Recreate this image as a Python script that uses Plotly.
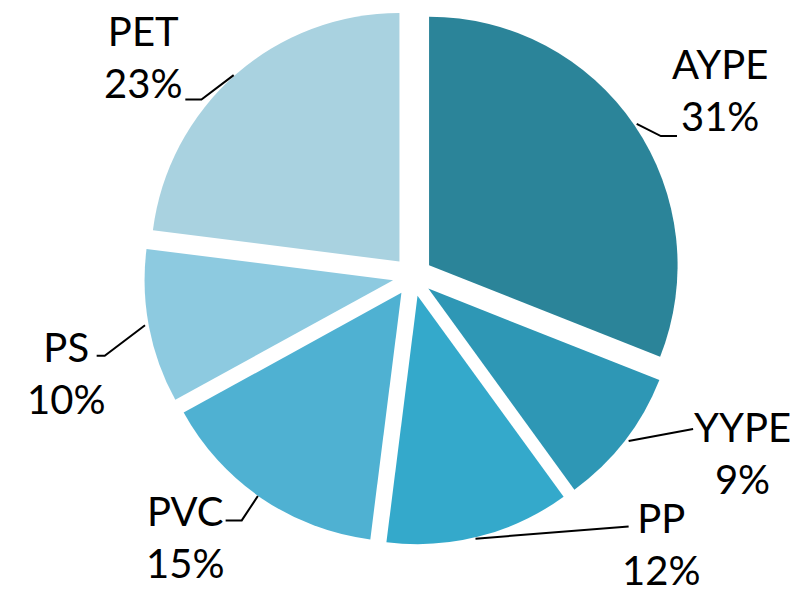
import math
import plotly.graph_objects as go

labels = ["AYPE", "YYPE", "PP", "PVC", "PS", "PET"]
values = [31, 9, 12, 15, 10, 23]
colors = ["#2B8499", "#2E97B5", "#34A9CB", "#4FB1D2", "#8DCAE0", "#A9D2E0"]

# layout / styling (pixels)
W, H = 806, 610
PULL = 0.08
DOM_X = [0.167, 0.837]
DOM_Y = [0.12, 1.0]
# label block centre offsets from the slice's outer mid-point
label_off = [(85, -36), (118, 12), (182, 8), (-77, 39), (-83, 46), (-92, -18)]
# leader end offsets from slice's outer mid-point, and horizontal tail length
leader_end = [(39, 8), (66, -14), (152, -7), (-34, 20), (-55, 26), (-47, 23)]
leader_tail = [13, 0, 0, 12, 12, 12]

fig = go.Figure(go.Pie(
    labels=labels,
    values=values,
    sort=False,
    direction="clockwise",
    rotation=0,
    pull=[PULL] * len(values),
    marker=dict(colors=colors, line=dict(width=0)),
    textinfo="none",
    textposition="none",
    hoverinfo="label+percent",
    showlegend=False,
    domain=dict(x=DOM_X, y=DOM_Y),
))

# pie geometry in pixels (same rule plotly uses)
rx = W * (DOM_X[1] - DOM_X[0]) / 2
ry = H * (DOM_Y[1] - DOM_Y[0]) / 2
r = min(rx, ry) / (1 + PULL)
cx = W * (DOM_X[0] + DOM_X[1]) / 2
cy = H * (1 - (DOM_Y[0] + DOM_Y[1]) / 2)

total = sum(values)
cum = 0
shapes = []
annotations = []
for i, (lab, v) in enumerate(zip(labels, values)):
    mid = (cum + v / 2) / total * 2 * math.pi
    cum += v
    dx, dy = math.sin(mid), -math.cos(mid)
    ex = cx + r * (1 + PULL) * dx
    ey = cy + r * (1 + PULL) * dy
    lx, ly = ex + label_off[i][0], ey + label_off[i][1]
    qx, qy = ex + leader_end[i][0], ey + leader_end[i][1]
    sgn = 1 if leader_end[i][0] > 0 else -1
    kx = qx - sgn * leader_tail[i]
    path = "M {:.2f},{:.2f} L {:.2f},{:.2f} L {:.2f},{:.2f}".format(
        ex / W, 1 - ey / H, kx / W, 1 - qy / H, qx / W, 1 - qy / H)
    shapes.append(dict(type="path", xref="paper", yref="paper", path=path,
                       line=dict(color="black", width=2)))
    pct = "{:.0f}%".format(v / total * 100)
    annotations.append(dict(
        x=lx / W, y=1 - ly / H, xref="paper", yref="paper",
        text=f"{lab}<br>{pct}", showarrow=False,
        xanchor="center", yanchor="middle", borderpad=0,
        font=dict(family="Lato", size=40, color="black"),
    ))

fig.update_layout(
    width=W, height=H,
    margin=dict(l=0, r=0, t=0, b=0),
    paper_bgcolor="white",
    plot_bgcolor="white",
    shapes=shapes,
    annotations=annotations,
)

fig.write_html("out.html")
